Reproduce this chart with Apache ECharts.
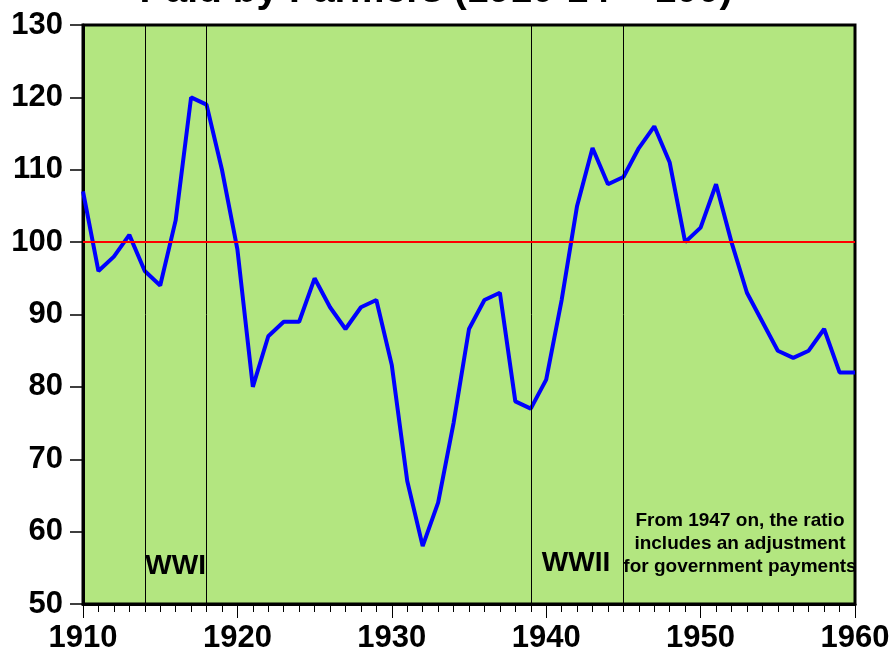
<!DOCTYPE html>
<html><head><meta charset="utf-8">
<script src="https://cdn.jsdelivr.net/npm/echarts@6/dist/echarts.min.js"></script>
<style>html,body{margin:0;padding:0;background:#fff}#c{width:893px;height:658px}</style>
</head><body><div id="c"></div>
<script>
const years = [1910,1911,1912,1913,1914,1915,1916,1917,1918,1919,
  1920,1921,1922,1923,1924,1925,1926,1927,1928,1929,
  1930,1931,1932,1933,1934,1935,1936,1937,1938,1939,
  1940,1941,1942,1943,1944,1945,1946,1947,1948,1949,
  1950,1951,1952,1953,1954,1955,1956,1957,1958,1959,1960];
const ratio = [107,96,98,101,96,94,103,120,119,110,
  99,80,87,89,89,95,91,88,91,92,
  83,67,58,64,75,88,92,93,78,77,
  81,92,105,113,108,109,113,116,111,100,
  102,108,100,93,89,85,84,85,88,82,82];
const warLines = [1914, 1918, 1939, 1945];
const parityLevel = 100;
const yRange = [50, 130, 10];
const xRange = [1910, 1960, 10];
const titleText = 'Paid by Farmers (1910-14 = 100)';
const warLabels = [['WWI', 1916, 55.2], ['WWII', 1941.93, 55.6]];
const noteLines = ['From 1947 on, the ratio', 'includes an adjustment', 'for government payments'];
const noteAnchor = [1952.55, 61.5, 58.3, 55.1];

const FONT = "'Liberation Sans', Arial, sans-serif";
const chart = echarts.init(document.getElementById('c'), null, {renderer: 'canvas'});
const option = {
  animation: false,
  backgroundColor: '#ffffff',
  grid: {left: 83, right: 38, top: 25, bottom: 54, show: true,
    backgroundColor: '#b3e680', borderColor: '#000', borderWidth: 3},
  xAxis: {
    type: 'value', min: xRange[0], max: xRange[1], interval: xRange[2],
    axisLine: {show: true, onZero: false, lineStyle: {color: '#000', width: 3}},
    axisTick: {show: true, inside: false, length: 14, lineStyle: {color: '#000', width: 1}},
    minorTick: {show: true, splitNumber: 10, length: 8, lineStyle: {color: '#000', width: 1}},
    splitLine: {show: false}, minorSplitLine: {show: false},
    axisLabel: {show: true, color: '#000', fontSize: 31, fontWeight: 'bold', fontFamily: FONT,
      margin: 19, showMinLabel: true, showMaxLabel: true, formatter: v => String(v)}
  },
  yAxis: {
    type: 'value', min: yRange[0], max: yRange[1], interval: yRange[2],
    axisLine: {show: true, onZero: false, lineStyle: {color: '#000', width: 3}},
    axisTick: {show: true, inside: false, length: 13, lineStyle: {color: '#000', width: 1.5}},
    splitLine: {show: false},
    axisLabel: {show: true, color: '#000', fontSize: 31, fontWeight: 'bold', fontFamily: FONT,
      margin: 20, showMinLabel: true, showMaxLabel: true}
  },
  series: [{
    type: 'line',
    data: years.map((y, i) => [y, ratio[i]]),
    symbol: 'none',
    lineStyle: {color: '#0000ff', width: 4},
    z: 3,
    markLine: {
      silent: true, symbol: 'none', label: {show: false}, animation: false,
      data: warLines.map(x => ({xAxis: x, lineStyle: {color: '#000', width: 1, type: 'solid'}}))
        .concat([{yAxis: parityLevel, lineStyle: {color: '#ff0000', width: 2, type: 'solid'}}])
    }
  }]
};
chart.setOption(option);

const graphics = [];
graphics.push({type: 'text', x: 436, y: -9, z: 10,
  style: {text: titleText, font: 'bold 39px ' + FONT, fill: '#000', align: 'center', verticalAlign: 'middle'}});
warLabels.forEach(([t, xv, yv]) => {
  const p = chart.convertToPixel({gridIndex: 0}, [xv, yv]);
  graphics.push({type: 'text', x: p[0], y: p[1], z: 10,
    style: {text: t, font: 'bold 28px ' + FONT, fill: '#000', align: 'center', verticalAlign: 'middle'}});
});
noteLines.forEach((t, i) => {
  const p = chart.convertToPixel({gridIndex: 0}, [noteAnchor[0], noteAnchor[i + 1]]);
  graphics.push({type: 'text', x: p[0], y: p[1], z: 10,
    style: {text: t, font: 'bold 19px ' + FONT, fill: '#000', align: 'center', verticalAlign: 'middle'}});
});
chart.setOption({graphic: graphics});
</script>
</body></html>
